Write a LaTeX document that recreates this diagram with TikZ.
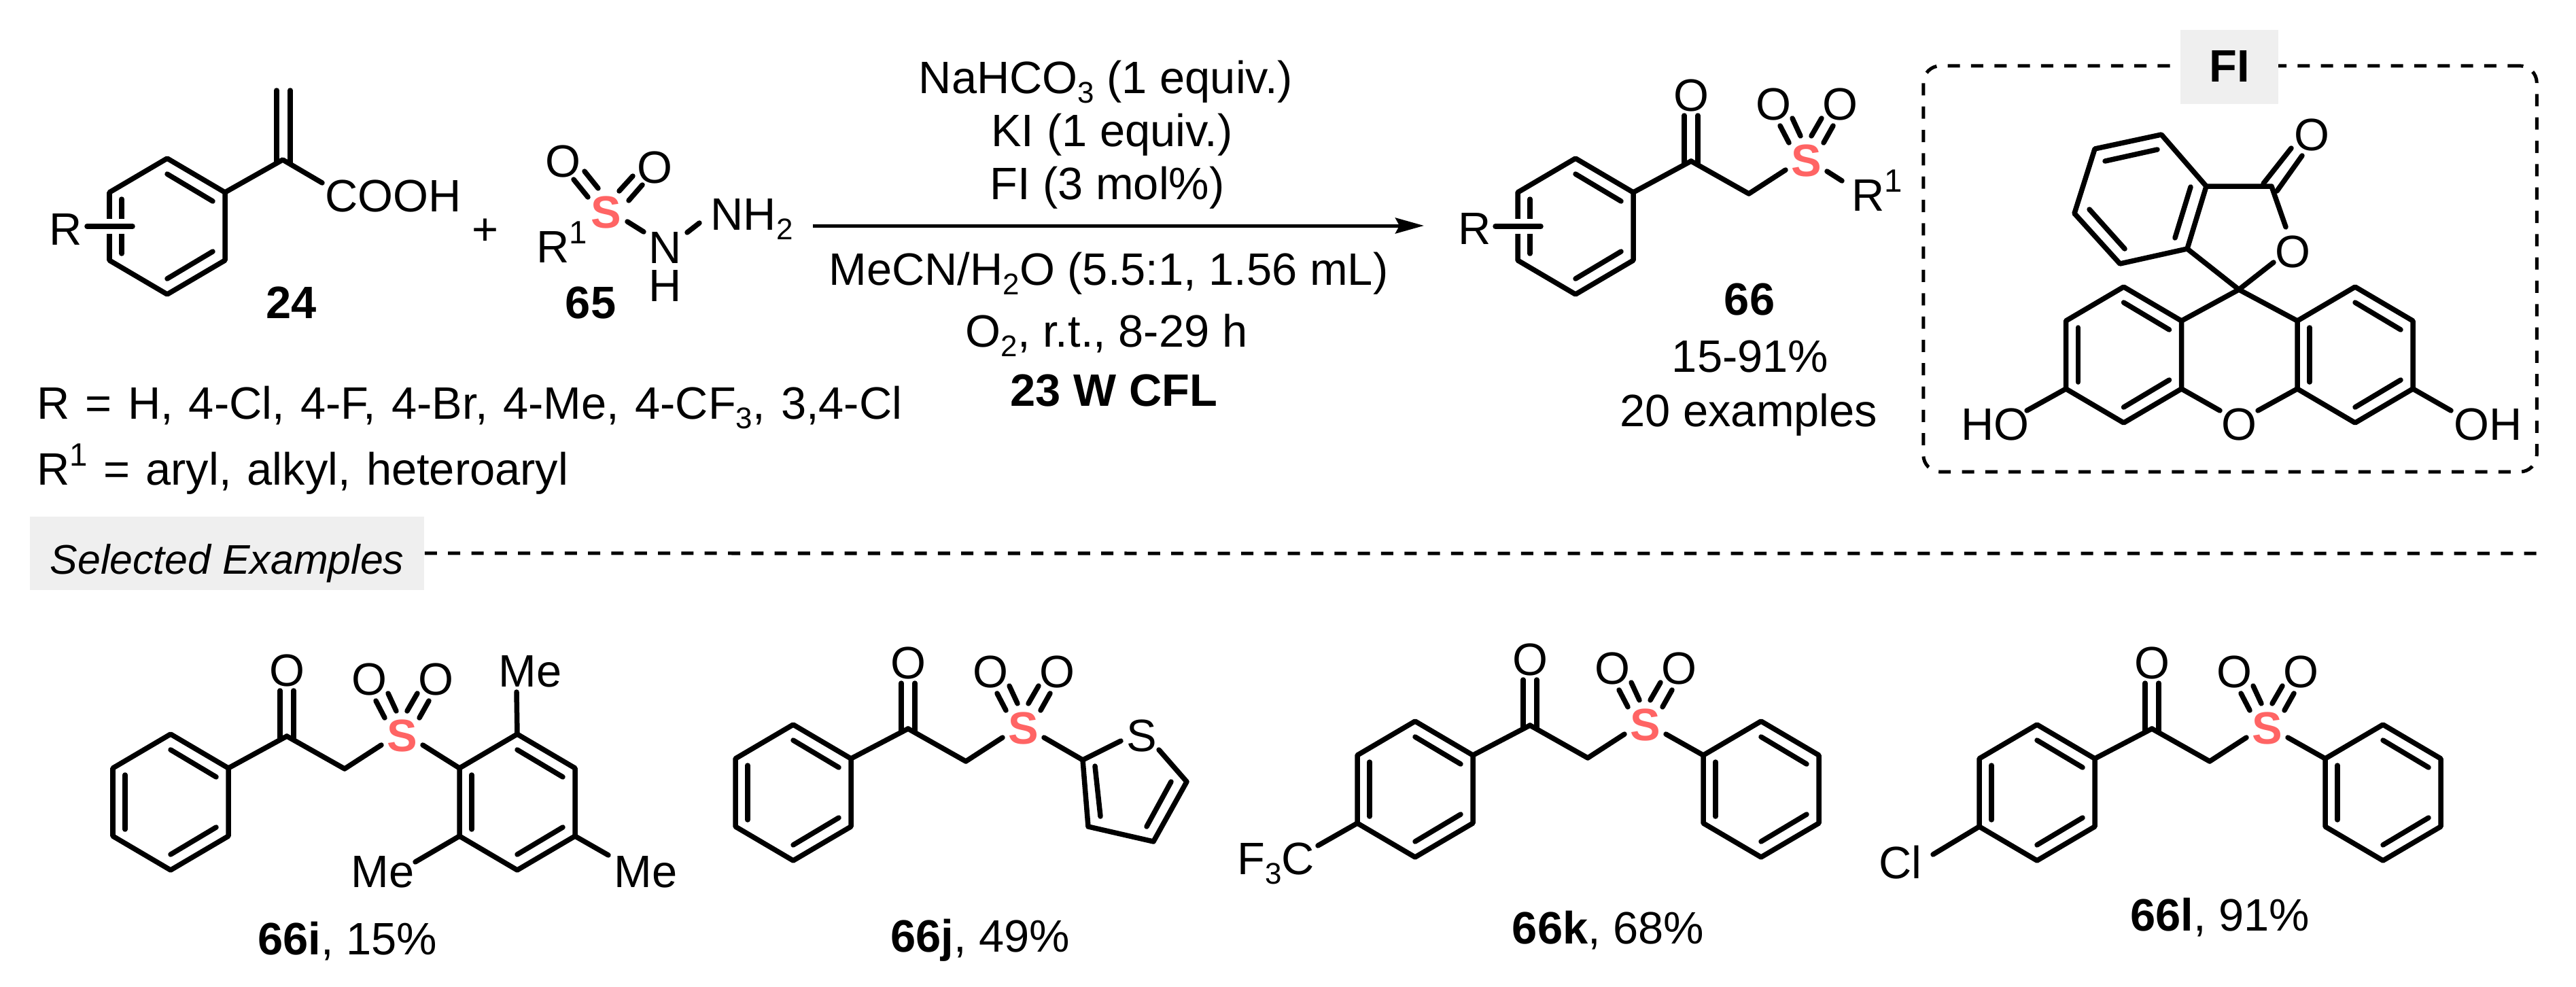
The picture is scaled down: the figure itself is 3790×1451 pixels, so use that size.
\documentclass[tikz,border=0pt]{standalone}
\usepackage{fontspec}
\setmainfont{Liberation Sans}
\usepackage{xcolor}
\usetikzlibrary{arrows.meta}
\definecolor{sulfred}{HTML}{FF6464}
\definecolor{taggray}{HTML}{EFEFEF}
\newcommand{\lowdig}[1]{\raisebox{-0.22em}{\fontsize{12.5}{15}\selectfont #1}}
\newcommand{\highdig}[1]{\raisebox{0.41em}{\fontsize{13.5}{16}\selectfont #1}}
% benzene ring: name, centre x, centre y
\newcommand{\bzring}[3]{
  \coordinate (#1t) at (#2,#3-100);
  \coordinate (#1ur) at (#2+85,#3-50);
  \coordinate (#1lr) at (#2+85,#3+50);
  \coordinate (#1b) at (#2,#3+100);
  \coordinate (#1ll) at (#2-85,#3+50);
  \coordinate (#1ul) at (#2-85,#3-50);
  \draw[bond] (#1t) -- (#1ur) -- (#1lr) -- (#1b) -- (#1ll) -- (#1ul) -- cycle;
  \draw[bond] (#2,#3-77) -- (#2+67,#3-37);
  \draw[bond] (#2,#3+77) -- (#2+67,#3+37);
  \draw[bond] (#2-67,#3-40) -- (#2-67,#3+40);
}
% C(=O)-CH2-S(=O)2 chain: name, carbonyl x, carbonyl y
\newcommand{\ketosulf}[3]{
  \coordinate (#1c) at (#2,#3);
  \coordinate (#1m) at (#2+85,#3+48);
  \coordinate (#1sl) at (#2+139,#3+13);
  \coordinate (#1sr) at (#2+200,#3+13);
  \node[atom] (#1o) at (#2,#3-74) {O};
  \node[atom] (#1ol) at (#2+121,#3-61) {O};
  \node[atom] (#1or) at (#2+219,#3-61) {O};
  \node[sulfur] (#1s) at (#2+170,#3+22) {S};
  \draw[bond] (#1c) -- (#1m) -- (#1sl);
  \draw[bond] (#2-10,#3+5) -- (#2-10,#3-67);
  \draw[bond] (#2+10,#3+5) -- (#2+10,#3-67);
  \draw[bond] (#2+131,#3-52) -- (#2+144,#3-27);
  \draw[bond] (#2+149,#3-63) -- (#2+161,#3-37);
  \draw[bond] (#2+177,#3-37) -- (#2+192,#3-63);
  \draw[bond] (#2+195,#3-27) -- (#2+209,#3-52);
}

\begin{document}
\begin{tikzpicture}[
  x=0.01cm, y=-0.01cm,
  bond/.style={line width=0.075cm, line cap=round, line join=round},
  gapline/.style={white, line width=0.22cm},
  atom/.style={font=\fontsize{19}{23}\selectfont, inner sep=0pt, anchor=base},
  atomw/.style={atom, anchor=base west},
  sulfur/.style={atom, text=sulfred, font=\fontsize{19}{23}\selectfont\bfseries},
  rxnarrow/.style={line width=0.05cm, -{Stealth[length=0.42cm, width=0.23cm, inset=0.06cm]}},
  dashline/.style={line width=0.05cm, dash pattern=on 0.18cm off 0.163cm},
  tagbox/.style={fill=taggray, inner sep=0pt, anchor=base},
]
  \useasboundingbox (0,0) rectangle (3790,1451);

  % substrate 24
  \bzring{a}{246}{333}
  \coordinate (ar) at (128,333);
  \coordinate (arb) at (195,333);
  \draw[gapline] (150,333) -- (arb);
  \draw[bond] (ar) -- (arb);
  \coordinate (av) at (416,235);
  \draw[bond] (aur) -- (av) -- (474,269);
  \draw[bond] (407,240) -- (407,133);
  \draw[bond] (427,240) -- (427,133);
  \node[atom] (rA) at (97,360) {R};
  \node[atomw] (cooh) at (478,311) {COOH};
  \node[atom] (lab24) at (429,468) {\textbf{24}};
  \node[atom] (plus) at (714,360) {+};

  % hydrazide 65
  \node[atomw] (rB) at (789,386) {R\highdig{1}};
  \node[sulfur] (sB) at (892,335) {S};
  \node[atom] (oBl) at (828,260) {O};
  \node[atom] (oBr) at (963,269) {O};
  \node[atom, align=center, font=\fontsize{19}{15.9}\selectfont] (nB) at (979,443) {N\\H};
  \node[atomw] (nhB) at (1045,338) {NH\lowdig{2}};
  \node[atom] (lab65) at (869,468) {\textbf{65}};
  \draw[bond] (844,264) -- (865,290);
  \draw[bond] (860,252) -- (880,277);
  \draw[bond] (911,281) -- (931,259);
  \draw[bond] (925,295) -- (945,272);
  \draw[bond] (923,326) -- (947,341);
  \draw[bond] (1011,342) -- (1029,328);

  % reaction arrow and conditions
  \coordinate (arrA) at (1196,332);
  \coordinate (arrB) at (2095,332);
  \draw[rxnarrow] (arrA) -- (arrB);
  \node[atom] (cond1) at (1627,137) {NaHCO\lowdig{3} (1 equiv.)};
  \node[atom] (cond2) at (1636,215) {KI (1 equiv.)};
  \node[atom] (cond3) at (1629,293) {FI (3 mol\%)};
  \node[atom] (cond4) at (1631,419) {MeCN/H\lowdig{2}O (5.5:1, 1.56 mL)};
  \node[atom] (cond5) at (1628,510) {O\lowdig{2}, r.t., 8-29 h};
  \node[atom] (cond6) at (1639,597) {\textbf{23 W CFL}};

  % scope
  \node[atomw] (scopeR) at (54,616) {\spaceskip=0.345em R = H, 4-Cl, 4-F, 4-Br, 4-Me, 4-CF\lowdig{3}, 3,4-Cl};
  \node[atomw] (scopeS) at (54,713) {\spaceskip=0.345em R\highdig{1} = aryl, alkyl, heteroaryl};

  % product 66
  \bzring{p}{2318}{333}
  \coordinate (prb) at (2267,333);
  \draw[gapline] (2207,333) -- (prb);
  \draw[bond] (2200,333) -- (prb);
  \ketosulf{q}{2488}{237}
  \draw[bond] (pur) -- (qc);
  \coordinate (qe) at (2710,266);
  \draw[bond] (2688,252) -- (qe);
  \node[atom] (rP) at (2170,359) {R};
  \node[atomw] (rQ) at (2724,310) {R\highdig{1}};
  \node[atom] (lab66) at (2574,463) {\textbf{66}};
  \node[atom] (yld66) at (2575,547) {15-91\%};
  \node[atom] (nex66) at (2573,627) {20 examples};

  % catalyst box
  \node[draw, dashline, rounded corners=0.25cm, minimum width=9.02cm, minimum height=5.97cm, inner sep=0pt] (fibox) at (3281,395.5) {};
  \node[tagbox, text height=0.76cm, text depth=0.33cm, minimum width=1.43cm, font=\fontsize{19}{23}\selectfont\bfseries] (filabel) at (3280,120) {FI};
  \bzring{fa}{3124.5}{522}
  \bzring{fb}{3465}{522}
  \coordinate (spc) at (3294,426);
  \coordinate (fc1) at (3180,198);
  \coordinate (fc2) at (3082,219);
  \coordinate (fc3) at (3052,314);
  \coordinate (fc4) at (3119,388);
  \coordinate (fc5) at (3218,366);
  \coordinate (fc6) at (3246,274);
  \coordinate (fco) at (3342,274);
  \draw[bond] (faur) -- (spc) -- (fbul);
  \draw[bond] (fc1) -- (fc2) -- (fc3) -- (fc4) -- (fc5) -- (fc6) -- cycle;
  \draw[bond] (fc5) -- (spc) -- (3345,386);
  \draw[bond] (fc6) -- (fco) -- (3363,334);
  \draw[bond] (3097,237) -- (3174,220);
  \draw[bond] (3074,308) -- (3126,366);
  \draw[bond] (3223,275) -- (3200,350);
  \draw[bond] (3330,270) -- (3371,218);
  \draw[bond] (3350,281) -- (3387,229);
  \draw[bond] (falr) -- (3266,604);
  \draw[bond] (fbll) -- (3322,604);
  \draw[bond] (fall) -- (2982,604);
  \draw[bond] (fblr) -- (3606,604);
  \node[atom] (ftop) at (3401,221) {O};
  \node[atom] (fring) at (3373,393) {O};
  \node[atom] (fbridge) at (3294,647) {O};
  \node[atomw] (fho) at (2885,647) {HO};
  \node[atomw] (foh) at (3610,647) {OH};

  % selected examples header
  \node[tagbox, text height=0.84cm, text depth=0.24cm, minimum width=5.8cm, font=\fontsize{17.3}{21}\selectfont\itshape] (seltag) at (334,844) {Selected Examples};
  \coordinate (selend) at (3738,814);
  \draw[dashline] (seltag.east) -- (selend);

  % 66i
  \bzring{ia}{251}{1180}
  \bzring{ib}{761}{1180}
  \ketosulf{ic}{422}{1083}
  \draw[bond] (iaur) -- (icc);
  \draw[bond] (icsr) -- (ibul);
  \draw[bond] (ibt) -- (760,1018);
  \draw[bond] (ibll) -- (611,1268);
  \draw[bond] (iblr) -- (895,1258);
  \node[atom] (imeA) at (780,1010) {Me};
  \node[atom] (imeB) at (563,1305) {Me};
  \node[atom] (imeC) at (950,1305) {Me};
  \node[atom] (labi) at (511,1404) {\textbf{66i}, 15\%};

  % 66j
  \bzring{ja}{1167}{1166}
  \ketosulf{jc}{1336}{1072}
  \draw[bond] (jaur) -- (jcc);
  \coordinate (jt2) at (1593,1118);
  \coordinate (jt3) at (1601,1216);
  \coordinate (jt4) at (1697,1238);
  \coordinate (jt5) at (1746,1150);
  \draw[bond] (jcsr) -- (jt2);
  \draw[bond] (1649,1090) -- (jt2) -- (jt3) -- (jt4) -- (jt5) -- (1705,1103);
  \draw[bond] (1611,1127) -- (1619,1201);
  \draw[bond] (1723,1150) -- (1687,1216);
  \node[atom] (jsring) at (1680,1105) {S};
  \node[atom] (labj) at (1442,1400) {\textbf{66j}, 49\%};

  % 66k
  \bzring{ka}{2082}{1161}
  \bzring{kb}{2591}{1161}
  \ketosulf{kc}{2251}{1067}
  \draw[bond] (kaur) -- (kcc);
  \draw[bond] (kcsr) -- (kbul);
  \draw[bond] (kall) -- (1939,1244);
  \node[atom] (kcf) at (1877,1286) {F\lowdig{3}C};
  \node[atom] (labk) at (2366,1388) {\textbf{66k}, 68\%};

  % 66l
  \bzring{la}{2997}{1166}
  \bzring{lb}{3506}{1166}
  \ketosulf{lc}{3166}{1072}
  \draw[bond] (laur) -- (lcc);
  \draw[bond] (lcsr) -- (lbul);
  \draw[bond] (lall) -- (2844,1257);
  \node[atom, anchor=base east] (lcl) at (2828,1292) {Cl};
  \node[atom] (labl) at (3266,1369) {\textbf{66l}, 91\%};
\end{tikzpicture}
\end{document}
